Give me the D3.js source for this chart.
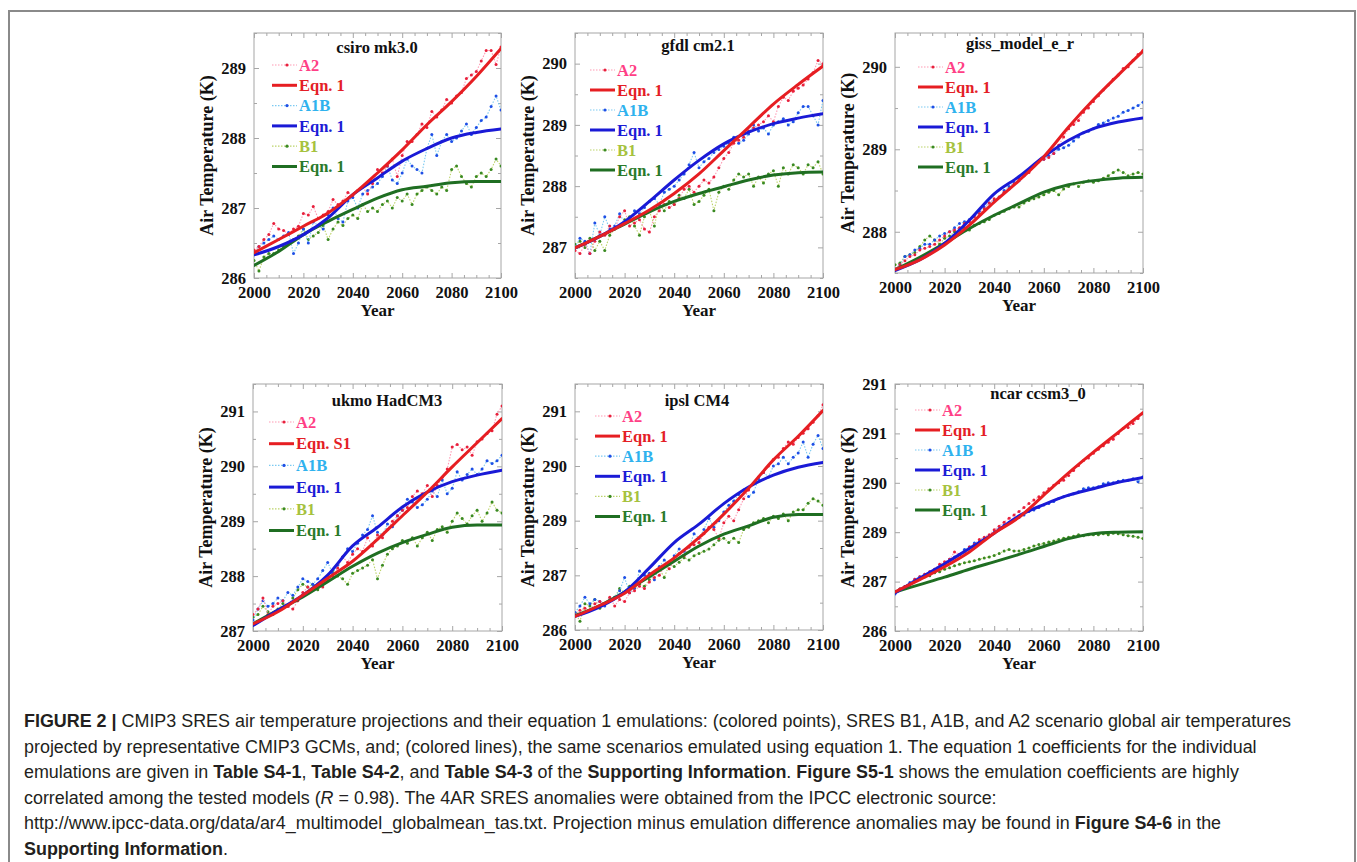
<!DOCTYPE html>
<html>
<head>
<meta charset="utf-8">
<script src="https://cdn.jsdelivr.net/npm/d3@7"></script>
<style>
  html, body { margin: 0; padding: 0; background: #fff; }
  svg { display: block; }
  .serif { font-family: "Liberation Serif", "Times New Roman", serif; font-weight: bold; }
  .caption { font-family: "Liberation Sans", Arial, sans-serif; font-size: 16px; fill: #231f20; }
</style>
</head>
<body>
<svg id="fig" width="1357" height="862"></svg>
<script>
// ─── Data ──────────────────────────────────────────────────
const MODEL_NAMES = ['csiro mk3.0', 'gfdl cm2.1', 'giss_model_e_r', 'ukmo HadCM3', 'ipsl CM4', 'ncar ccsm3_0'];
const SCENARIOS   = ['A2', 'A1B', 'B1'];
const EQN_LABELS  = [
  ['Eqn. 1', 'Eqn. 1', 'Eqn. 1'],
  ['Eqn. 1', 'Eqn. 1', 'Eqn. 1'],
  ['Eqn. 1', 'Eqn. 1', 'Eqn. 1'],
  ['Eqn. S1', 'Eqn. 1', 'Eqn. 1'],
  ['Eqn. 1', 'Eqn. 1', 'Eqn. 1'],
  ['Eqn. 1', 'Eqn. 1', 'Eqn. 1']
];
const X_TICKS   = [2000, 2020, 2040, 2060, 2080, 2100];
const EQN_YEARS = [2000, 2010, 2020, 2030, 2040, 2050, 2060, 2070, 2080, 2090, 2100];
// projection points are every 2 years, 2000 → 2100

// y axes
const csiroYDomain = [286, 289.5];   const csiroYTicks = [286, 287, 288, 289];        const csiroYLabels = ['286', '287', '288', '289'];
const gfdlYDomain  = [286.5, 290.5]; const gfdlYTicks  = [287, 288, 289, 290];        const gfdlYLabels  = ['287', '288', '289', '290'];
const gissYDomain  = [287.5, 290.41];const gissYTicks  = [288, 289, 290];             const gissYLabels  = ['288', '289', '290'];
const ukmoYDomain  = [287, 291.5];   const ukmoYTicks  = [287, 288, 289, 290, 291];   const ukmoYLabels  = ['287', '288', '289', '290', '291'];
const ipslYDomain  = [286, 291.625]; const ipslYTicks  = [286, 287.25, 288.5, 289.75, 291]; const ipslYLabels = ['286', '287', '289', '290', '291'];
const ncarYDomain  = [286, 291];     const ncarYTicks  = [286, 287, 288, 289, 290, 291];    const ncarYLabels = ['286', '287', '289', '290', '291', '291'];

// csiro mk3.0
const csiroA2 = [
  286.40, 286.45, 286.55, 286.62, 286.78, 286.70, 286.68, 286.62, 286.70, 286.74,
  286.92, 286.90, 287.02, 286.85, 286.90, 286.95, 287.12, 287.05, 287.10, 287.22,
  287.18, 287.25, 287.30, 287.20, 287.35, 287.55, 287.50, 287.60, 287.70, 287.45,
  287.75, 287.95, 287.95, 288.05, 288.20, 288.15, 288.38, 288.30, 288.40, 288.55,
  288.50, 288.60, 288.65, 288.85, 288.90, 288.95, 289.10, 289.25, 289.25, 289.05,
  289.30];
const csiroA1B = [
  286.35, 286.45, 286.50, 286.55, 286.60, 286.55, 286.60, 286.65, 286.35, 286.50,
  286.70, 286.50, 286.80, 286.75, 286.70, 286.90, 287.00, 286.85, 286.80, 287.10,
  287.15, 287.00, 287.20, 287.25, 287.30, 287.35, 287.45, 287.60, 287.40, 287.35,
  287.50, 287.70, 287.60, 287.55, 287.50, 287.85, 288.05, 287.75, 287.95, 288.05,
  287.95, 288.00, 288.10, 288.20, 288.05, 288.15, 288.25, 288.30, 288.45, 288.60,
  288.40];
const csiroB1 = [
  286.25, 286.10, 286.30, 286.35, 286.35, 286.40, 286.45, 286.50, 286.55, 286.60,
  286.70, 286.55, 286.60, 286.65, 286.75, 286.55, 286.70, 286.80, 286.75, 286.85,
  286.90, 286.85, 287.05, 286.95, 287.00, 286.95, 287.05, 287.10, 287.00, 287.15,
  287.10, 287.20, 287.05, 287.20, 287.25, 287.30, 287.25, 287.20, 287.30, 287.25,
  287.55, 287.60, 287.45, 287.35, 287.30, 287.45, 287.50, 287.45, 287.55, 287.70,
  287.60];
const csiroEqnA2  = [286.36, 286.55, 286.74, 286.93, 287.19, 287.50, 287.83, 288.19, 288.52, 288.88, 289.28];
const csiroEqnA1B = [286.33, 286.45, 286.62, 286.86, 287.19, 287.43, 287.67, 287.85, 288.00, 288.08, 288.13];
const csiroEqnB1  = [286.18, 286.38, 286.62, 286.81, 286.98, 287.14, 287.26, 287.31, 287.36, 287.38, 287.38];

// gfdl cm2.1
const gfdlA2 = [
  286.95, 286.90, 287.05, 286.90, 287.10, 287.25, 287.20, 287.35, 287.30, 287.50,
  287.60, 287.35, 287.40, 287.45, 287.30, 287.25, 287.50, 287.60, 287.70, 287.65,
  287.70, 287.80, 287.95, 288.00, 287.90, 288.00, 288.10, 288.05, 288.15, 288.30,
  288.45, 288.55, 288.70, 288.75, 288.80, 288.90, 288.95, 289.00, 289.05, 289.15,
  289.05, 289.30, 289.45, 289.40, 289.55, 289.60, 289.65, 289.75, 289.85, 290.05,
  290.00];
const gfdlA1B = [
  287.00, 287.15, 287.10, 286.90, 287.40, 287.20, 287.50, 287.30, 287.35, 287.55,
  287.40, 287.45, 287.60, 287.55, 287.65, 287.75, 287.80, 287.70, 287.90, 287.95,
  288.00, 288.10, 288.20, 288.35, 288.55, 288.30, 288.40, 288.45, 288.55, 288.60,
  288.65, 288.70, 288.80, 288.70, 288.75, 288.85, 289.00, 288.90, 288.95, 288.85,
  289.00, 289.05, 289.10, 289.00, 289.05, 289.20, 289.30, 289.30, 289.15, 289.00,
  289.40];
const gfdlB1 = [
  287.05, 287.10, 287.00, 287.15, 286.95, 287.10, 286.95, 287.20, 287.30, 287.35,
  287.45, 287.50, 287.35, 287.20, 287.50, 287.60, 287.35, 287.70, 287.60, 287.75,
  287.70, 287.85, 287.80, 287.95, 287.70, 287.75, 287.85, 287.95, 287.60, 287.90,
  288.00, 287.95, 288.10, 288.20, 288.15, 288.20, 288.00, 288.15, 288.05, 288.20,
  288.25, 288.00, 288.30, 288.20, 288.35, 288.30, 288.20, 288.35, 288.30, 288.40,
  288.20];
const gfdlEqnA2  = [286.99, 287.18, 287.39, 287.61, 287.88, 288.20, 288.58, 288.96, 289.34, 289.66, 289.96];
const gfdlEqnA1B = [286.99, 287.18, 287.42, 287.75, 288.10, 288.42, 288.69, 288.88, 289.02, 289.11, 289.18];
const gfdlEqnB1  = [286.99, 287.18, 287.38, 287.58, 287.75, 287.88, 287.99, 288.10, 288.18, 288.22, 288.23];

// giss_model_e_r
const gissA2 = [
  287.55, 287.60, 287.65, 287.70, 287.72, 287.78, 287.80, 287.82, 287.85, 287.90,
  287.95, 288.00, 288.02, 288.05, 288.10, 288.12, 288.18, 288.22, 288.28, 288.35,
  288.40, 288.42, 288.48, 288.52, 288.58, 288.65, 288.68, 288.72, 288.80, 288.85,
  288.88, 288.90, 288.95, 289.05, 289.15, 289.25, 289.30, 289.35, 289.45, 289.50,
  289.58, 289.65, 289.72, 289.78, 289.85, 289.90, 289.98, 290.00, 290.08, 290.15,
  290.20];
const gissA1B = [
  287.55, 287.60, 287.70, 287.72, 287.78, 287.80, 287.85, 287.85, 287.90, 287.95,
  287.98, 288.00, 288.05, 288.10, 288.12, 288.15, 288.20, 288.25, 288.30, 288.35,
  288.38, 288.42, 288.50, 288.55, 288.60, 288.62, 288.68, 288.75, 288.80, 288.85,
  288.88, 288.92, 288.95, 289.00, 289.02, 289.05, 289.10, 289.15, 289.20, 289.22,
  289.25, 289.30, 289.32, 289.35, 289.38, 289.40, 289.45, 289.47, 289.50, 289.53,
  289.57];
const gissB1 = [
  287.60, 287.62, 287.70, 287.72, 287.75, 287.82, 287.90, 287.95, 287.90, 287.85,
  287.92, 287.95, 288.00, 288.02, 288.05, 288.02, 288.08, 288.10, 288.12, 288.15,
  288.20, 288.22, 288.25, 288.28, 288.30, 288.30, 288.35, 288.38, 288.40, 288.42,
  288.45, 288.48, 288.50, 288.45, 288.52, 288.55, 288.58, 288.55, 288.60, 288.62,
  288.60, 288.62, 288.65, 288.68, 288.72, 288.75, 288.72, 288.68, 288.70, 288.72,
  288.70];
const gissEqnA2  = [287.54, 287.66, 287.84, 288.08, 288.36, 288.62, 288.91, 289.27, 289.60, 289.90, 290.19];
const gissEqnA1B = [287.53, 287.66, 287.86, 288.14, 288.46, 288.67, 288.91, 289.11, 289.25, 289.33, 289.38];
const gissEqnB1  = [287.54, 287.69, 287.86, 288.04, 288.20, 288.34, 288.48, 288.57, 288.62, 288.65, 288.66];

// ukmo HadCM3
const ukmoA2 = [
  287.30, 287.40, 287.60, 287.30, 287.45, 287.50, 287.55, 287.45, 287.40, 287.55,
  287.70, 287.80, 287.75, 287.85, 287.80, 287.95, 288.00, 288.15, 288.35, 288.25,
  288.40, 288.50, 288.45, 288.70, 288.55, 288.75, 288.70, 288.85, 289.00, 289.10,
  289.20, 289.25, 289.45, 289.55, 289.50, 289.65, 289.45, 289.65, 289.80, 289.95,
  290.35, 290.40, 290.30, 290.35, 290.20, 290.45, 290.50, 290.60, 290.65, 290.95,
  291.10];
const ukmoA1B = [
  287.20, 287.40, 287.55, 287.45, 287.50, 287.60, 287.55, 287.70, 287.65, 287.80,
  287.95, 287.90, 287.85, 287.95, 288.10, 288.25, 288.05, 288.20, 288.35, 288.50,
  288.45, 288.60, 288.75, 288.85, 289.10, 288.80, 288.75, 288.95, 288.90, 289.10,
  289.20, 289.40, 289.35, 289.25, 289.30, 289.40, 289.55, 289.45, 289.75, 289.50,
  289.60, 289.90, 289.75, 289.85, 289.95, 289.85, 289.95, 290.10, 290.05, 290.10,
  290.20];
const ukmoB1 = [
  287.25, 287.30, 287.45, 287.35, 287.30, 287.40, 287.50, 287.45, 287.60, 287.75,
  287.85, 287.80, 287.85, 287.75, 287.85, 288.00, 288.10, 288.00, 287.95, 287.85,
  288.05, 288.10, 288.15, 288.20, 288.30, 287.95, 288.20, 288.40, 288.50, 288.55,
  288.65, 288.60, 288.70, 288.55, 288.70, 288.80, 288.65, 288.85, 288.90, 288.80,
  289.00, 289.15, 289.05, 288.95, 289.10, 289.20, 289.00, 289.15, 289.35, 289.20,
  289.15];
const ukmoEqnA2  = [287.13, 287.35, 287.65, 287.96, 288.27, 288.67, 289.10, 289.53, 289.99, 290.43, 290.87];
const ukmoEqnA1B = [287.10, 287.38, 287.65, 288.02, 288.55, 288.89, 289.26, 289.53, 289.72, 289.84, 289.93];
const ukmoEqnB1  = [287.13, 287.38, 287.62, 287.90, 288.18, 288.42, 288.61, 288.76, 288.89, 288.93, 288.93];

// ipsl CM4
const ipslA2 = [
  286.35, 286.45, 286.50, 286.45, 286.60, 286.65, 286.60, 286.75, 286.55, 286.70,
  286.65, 286.85, 286.90, 287.00, 286.95, 287.10, 287.20, 287.25, 287.45, 287.40,
  287.60, 287.75, 287.70, 287.90, 287.95, 288.00, 288.20, 288.35, 288.30, 288.10,
  288.45, 288.60, 288.50, 288.75, 289.00, 289.20, 289.35, 289.50, 289.60, 289.75,
  289.90, 289.95, 290.15, 290.30, 290.25, 290.40, 290.50, 290.60, 290.75, 290.90,
  291.15];
const ipslA1B = [
  286.40, 286.55, 286.75, 286.60, 286.70, 286.65, 286.55, 286.70, 286.75, 286.90,
  287.20, 286.85, 286.95, 287.35, 287.25, 287.30, 287.15, 287.45, 287.60, 287.50,
  287.70, 287.85, 287.80, 287.90, 288.20, 288.10, 288.30, 288.55, 288.35, 288.50,
  288.70, 288.85, 288.95, 289.10, 289.20, 289.05, 289.15, 289.45, 289.60, 289.50,
  289.75, 289.80, 289.95, 289.80, 289.95, 290.05, 290.30, 289.95, 290.25, 290.45,
  290.15];
const ipslB1 = [
  286.40, 286.20, 286.60, 286.55, 286.70, 286.50, 286.60, 286.70, 286.75, 286.95,
  286.85, 287.00, 286.95, 287.05, 287.00, 287.15, 287.30, 287.40, 287.20, 287.50,
  287.45, 287.55, 287.65, 287.60, 287.70, 287.75, 287.80, 287.85, 287.95, 288.05,
  288.10, 288.00, 288.10, 288.00, 288.30, 288.35, 288.45, 288.50, 288.55, 288.45,
  288.60, 288.55, 288.65, 288.50, 288.70, 288.75, 288.75, 288.90, 289.00, 288.95,
  288.85];
const ipslEqnA2  = [286.31, 286.56, 286.84, 287.26, 287.65, 288.11, 288.65, 289.24, 289.89, 290.43, 291.02];
const ipslEqnA1B = [286.31, 286.53, 286.87, 287.42, 288.00, 288.42, 288.89, 289.27, 289.54, 289.72, 289.83];
const ipslEqnB1  = [286.33, 286.56, 286.87, 287.22, 287.57, 287.92, 288.19, 288.38, 288.58, 288.64, 288.64];

// ncar ccsm3_0
const ncarA2 = [
  286.80, 286.85, 286.90, 286.95, 287.05, 287.10, 287.15, 287.20, 287.25, 287.35,
  287.40, 287.45, 287.60, 287.55, 287.60, 287.70, 287.75, 287.85, 287.90, 287.95,
  288.05, 288.12, 288.20, 288.28, 288.35, 288.42, 288.50, 288.58, 288.65, 288.72,
  288.80, 288.88, 288.95, 289.00, 289.05, 289.15, 289.25, 289.35, 289.45, 289.50,
  289.60, 289.68, 289.75, 289.82, 289.88, 290.00, 290.10, 290.12, 290.20, 290.30,
  290.40];
const ncarA1B = [
  286.75, 286.85, 286.90, 286.98, 287.05, 287.10, 287.15, 287.20, 287.25, 287.30,
  287.35, 287.45, 287.50, 287.55, 287.65, 287.70, 287.78, 287.82, 287.88, 287.92,
  288.00, 288.08, 288.15, 288.20, 288.25, 288.30, 288.35, 288.42, 288.45, 288.50,
  288.55, 288.58, 288.62, 288.68, 288.72, 288.75, 288.78, 288.82, 288.88, 288.90,
  288.90, 288.92, 288.98, 289.00, 289.00, 289.03, 289.05, 289.05, 289.08, 289.02,
  289.12];
const ncarB1 = [
  286.78, 286.85, 286.90, 286.95, 287.00, 287.05, 287.10, 287.12, 287.18, 287.20,
  287.25, 287.28, 287.32, 287.35, 287.38, 287.40, 287.42, 287.45, 287.48, 287.50,
  287.53, 287.57, 287.62, 287.65, 287.62, 287.62, 287.65, 287.68, 287.72, 287.75,
  287.77, 287.80, 287.82, 287.85, 287.88, 287.90, 287.92, 287.95, 287.93, 287.95,
  287.95, 287.95, 287.97, 287.95, 287.98, 287.97, 287.95, 287.93, 287.92, 287.90,
  287.87];
const ncarEqnA2  = [286.79, 287.04, 287.30, 287.60, 287.98, 288.30, 288.75, 289.20, 289.62, 290.02, 290.42];
const ncarEqnA1B = [286.77, 287.07, 287.36, 287.67, 287.98, 288.33, 288.56, 288.75, 288.88, 289.01, 289.11];
const ncarEqnB1  = [286.79, 286.94, 287.09, 287.25, 287.40, 287.55, 287.71, 287.87, 287.97, 288.00, 288.01];

// ─── Panels (built from the arrays above) ─────────────────
const panels = [
  { yDomain: csiroYDomain, yTicks: csiroYTicks, yLabels: csiroYLabels, pts: [csiroA2, csiroA1B, csiroB1], eqn: [csiroEqnA2, csiroEqnA1B, csiroEqnB1] },
  { yDomain: gfdlYDomain,  yTicks: gfdlYTicks,  yLabels: gfdlYLabels,  pts: [gfdlA2, gfdlA1B, gfdlB1],    eqn: [gfdlEqnA2, gfdlEqnA1B, gfdlEqnB1] },
  { yDomain: gissYDomain,  yTicks: gissYTicks,  yLabels: gissYLabels,  pts: [gissA2, gissA1B, gissB1],    eqn: [gissEqnA2, gissEqnA1B, gissEqnB1] },
  { yDomain: ukmoYDomain,  yTicks: ukmoYTicks,  yLabels: ukmoYLabels,  pts: [ukmoA2, ukmoA1B, ukmoB1],    eqn: [ukmoEqnA2, ukmoEqnA1B, ukmoEqnB1] },
  { yDomain: ipslYDomain,  yTicks: ipslYTicks,  yLabels: ipslYLabels,  pts: [ipslA2, ipslA1B, ipslB1],    eqn: [ipslEqnA2, ipslEqnA1B, ipslEqnB1] },
  { yDomain: ncarYDomain,  yTicks: ncarYTicks,  yLabels: ncarYLabels,  pts: [ncarA2, ncarA1B, ncarB1],    eqn: [ncarEqnA2, ncarEqnA1B, ncarEqnB1] }
].map((p, i) => ({ ...p, name: MODEL_NAMES[i], eqnLabels: EQN_LABELS[i] }));

// ─── Layout & style ────────────────────────────────────────
const LAYOUT = [
  { left: 254, right: 501,  top: 33,  bottom: 278, titleX: 377,  titleY: 53,  legX: 272, legY: 65,  legDy: 20.3 },
  { left: 575, right: 823,  top: 33,  bottom: 278, titleX: 698,  titleY: 51,  legX: 590, legY: 70,  legDy: 20.0 },
  { left: 895, right: 1143, top: 33,  bottom: 273, titleX: 1020, titleY: 49,  legX: 918, legY: 67,  legDy: 20.0 },
  { left: 253, right: 502,  top: 384, bottom: 631, titleX: 387,  titleY: 406, legX: 269, legY: 422, legDy: 21.7 },
  { left: 575, right: 823,  top: 384, bottom: 630, titleX: 697,  titleY: 406, legX: 595, legY: 416, legDy: 20.1 },
  { left: 895, right: 1143, top: 384, bottom: 631, titleX: 1038, titleY: 399, legX: 915, legY: 410, legDy: 20.0 }
];

const PT_COLOR    = ['#e8203c', '#1e4fe6', '#3a8a22'];
const PT_LINE     = ['#ff9ab4', '#7ccaf2', '#bcd36a'];
const EQN_COLOR   = ['#e61e22', '#1a1ad6', '#1f6e22'];
const LEG_PT_TEXT = ['#ff3f86', '#2fb2ee', '#a6c23e'];
const LEG_EQ_TEXT = ['#e41e26', '#1c1cd6', '#2a7a2a'];
const AXIS_GREY   = '#a6a6a6';

const svg = d3.select('#fig');

// outer figure border
svg.append('rect')
  .attr('x', 9).attr('y', 11)
  .attr('width', 1346).attr('height', 900)
  .attr('fill', 'none').attr('stroke', '#8a8a8a').attr('stroke-width', 2);

function minorTicks(major, domain) {
  const step = (major[1] - major[0]) / 2;
  const out = [];
  for (let v = major[0] - step * 4; v <= domain[1] + 1e-6; v += step) {
    if (v < domain[0] - 1e-6) continue;
    if (major.some(m => Math.abs(m - v) < 1e-6)) continue;
    out.push(v);
  }
  return out;
}

function styleAxis(g) {
  g.select('.domain').remove();
  g.selectAll('.tick line').attr('stroke', AXIS_GREY);
  g.selectAll('.tick text')
    .attr('class', 'serif')
    .attr('fill', '#111')
    .style('font-size', '16.5px');
}

function drawPanel(p, box, idx) {
  const x = d3.scaleLinear().domain([2000, 2100]).range([box.left, box.right]);
  const y = d3.scaleLinear().domain(p.yDomain).range([box.bottom, box.top]);
  const g = svg.append('g');

  const xMinor = d3.range(2005, 2100, 5).filter(v => v % 20 !== 0);
  const yMinor = minorTicks(p.yTicks, p.yDomain);

  // ticks, all pointing inward
  g.append('g').attr('transform', `translate(0,${box.bottom})`)
    .call(d3.axisBottom(x).tickValues(X_TICKS).tickFormat(d3.format('d'))
      .tickSizeInner(-5).tickSizeOuter(0).tickPadding(8))
    .call(styleAxis);
  g.append('g').attr('transform', `translate(0,${box.bottom})`)
    .call(d3.axisBottom(x).tickValues(xMinor).tickFormat('').tickSizeInner(-3).tickSizeOuter(0))
    .call(styleAxis);
  g.append('g').attr('transform', `translate(0,${box.top})`)
    .call(d3.axisTop(x).tickValues(X_TICKS).tickFormat('').tickSizeInner(-5).tickSizeOuter(0))
    .call(styleAxis);
  g.append('g').attr('transform', `translate(0,${box.top})`)
    .call(d3.axisTop(x).tickValues(xMinor).tickFormat('').tickSizeInner(-3).tickSizeOuter(0))
    .call(styleAxis);

  g.append('g').attr('transform', `translate(${box.left},0)`)
    .call(d3.axisLeft(y).tickValues(p.yTicks).tickFormat((d, i) => p.yLabels[i])
      .tickSizeInner(-5).tickSizeOuter(0).tickPadding(8))
    .call(styleAxis);
  g.append('g').attr('transform', `translate(${box.left},0)`)
    .call(d3.axisLeft(y).tickValues(yMinor).tickFormat('').tickSizeInner(-3).tickSizeOuter(0))
    .call(styleAxis);
  g.append('g').attr('transform', `translate(${box.right},0)`)
    .call(d3.axisRight(y).tickValues(p.yTicks).tickFormat('').tickSizeInner(-5).tickSizeOuter(0))
    .call(styleAxis);
  g.append('g').attr('transform', `translate(${box.right},0)`)
    .call(d3.axisRight(y).tickValues(yMinor).tickFormat('').tickSizeInner(-3).tickSizeOuter(0))
    .call(styleAxis);

  // frame
  g.append('rect')
    .attr('x', box.left).attr('y', box.top)
    .attr('width', box.right - box.left).attr('height', box.bottom - box.top)
    .attr('fill', 'none').attr('stroke', AXIS_GREY).attr('stroke-width', 1);

  // axis titles
  g.append('text').attr('class', 'serif')
    .attr('x', (box.left + box.right) / 2).attr('y', box.bottom + 38)
    .attr('text-anchor', 'middle').style('font-size', '17px').attr('fill', '#111')
    .text('Year');
  g.append('text').attr('class', 'serif')
    .attr('transform', `translate(${box.left - 47},${(box.top + box.bottom) / 2}) rotate(-90)`)
    .attr('text-anchor', 'middle').attr('dy', '0.35em').style('font-size', '18px').attr('fill', '#111')
    .text('Air Temperature (K)');

  // data
  const clipId = `clip-${idx}`;
  svg.append('clipPath').attr('id', clipId)
    .append('rect')
    .attr('x', box.left).attr('y', box.top)
    .attr('width', box.right - box.left).attr('height', box.bottom - box.top);
  const plot = g.append('g').attr('clip-path', `url(#${clipId})`);

  const ptLine = d3.line()
    .x((d, i, arr) => x(2000 + i * 100 / (arr.length - 1)))
    .y(d => y(d));
  const eqnLine = d3.line()
    .x((d, i) => x(EQN_YEARS[i]))
    .y(d => y(d))
    .curve(d3.curveMonotoneX);

  // draw order: B1, A1B, A2 points, then lines
  [2, 1, 0].forEach(s => {
    const vals = p.pts[s];
    plot.append('path')
      .attr('d', ptLine(vals))
      .attr('fill', 'none').attr('stroke', PT_LINE[s])
      .attr('stroke-width', 1.1).attr('stroke-dasharray', '1.5,1.5');
    plot.selectAll(null)
      .data(vals)
      .join('circle')
      .attr('cx', (d, i) => x(2000 + i * 100 / (vals.length - 1)))
      .attr('cy', d => y(d))
      .attr('r', 1.5)
      .attr('fill', PT_COLOR[s]);
  });
  [2, 1, 0].forEach(s => {
    plot.append('path')
      .attr('d', eqnLine(p.eqn[s]))
      .attr('fill', 'none').attr('stroke', EQN_COLOR[s])
      .attr('stroke-width', 3).attr('stroke-linecap', 'round');
  });

  // title
  g.append('text').attr('class', 'serif')
    .attr('x', box.titleX).attr('y', box.titleY)
    .attr('text-anchor', 'middle').style('font-size', '16.5px').attr('fill', '#111')
    .text(p.name);

  // legend
  const rows = [];
  SCENARIOS.forEach((sc, s) => {
    rows.push({ kind: 'pts', s, label: sc });
    rows.push({ kind: 'eqn', s, label: p.eqnLabels[s] });
  });
  const legLen = 25;
  rows.forEach((r, i) => {
    const ry = box.legY + i * box.legDy;
    if (r.kind === 'pts') {
      g.append('line')
        .attr('x1', box.legX).attr('x2', box.legX + legLen)
        .attr('y1', ry).attr('y2', ry)
        .attr('stroke', PT_LINE[r.s]).attr('stroke-width', 1.2).attr('stroke-dasharray', '1.5,1.5');
      g.append('circle')
        .attr('cx', box.legX + legLen * 0.6).attr('cy', ry).attr('r', 1.6)
        .attr('fill', PT_COLOR[r.s]);
    } else {
      g.append('line')
        .attr('x1', box.legX).attr('x2', box.legX + legLen)
        .attr('y1', ry).attr('y2', ry)
        .attr('stroke', EQN_COLOR[r.s]).attr('stroke-width', 3);
    }
    g.append('text').attr('class', 'serif')
      .attr('x', box.legX + legLen + 2).attr('y', ry).attr('dy', '0.35em')
      .style('font-size', '16.5px')
      .attr('fill', r.kind === 'pts' ? LEG_PT_TEXT[r.s] : LEG_EQ_TEXT[r.s])
      .text(r.label);
  });
}

panels.forEach((p, i) => drawPanel(p, LAYOUT[i], i));

// ─── Caption ───────────────────────────────────────────────
const CAPTION = [
  [['b', 'FIGURE 2 | '], ['n', 'CMIP3 SRES air temperature projections and their equation 1 emulations: (colored points), SRES B1, A1B, and A2 scenario global air temperatures']],
  [['n', 'projected by representative CMIP3 GCMs, and; (colored lines), the same scenarios emulated using equation 1. The equation 1 coefficients for the individual']],
  [['n', 'emulations are given in '], ['b', 'Table S4-1'], ['n', ', '], ['b', 'Table S4-2'], ['n', ', and '], ['b', 'Table S4-3'], ['n', ' of the '], ['b', 'Supporting Information'], ['n', '. '], ['b', 'Figure S5-1'], ['n', ' shows the emulation coefficients are highly']],
  [['n', 'correlated among the tested models ('], ['i', 'R'], ['n', ' = 0.98). The 4AR SRES anomalies were obtained from the IPCC electronic source:']],
  [['n', 'http://www.ipcc-data.org/data/ar4_multimodel_globalmean_tas.txt. Projection minus emulation difference anomalies may be found in '], ['b', 'Figure S4-6'], ['n', ' in the']],
  [['b', 'Supporting Information'], ['n', '.']]
];
const CAPTION_FIRST_LINE_RIGHT = 1292;

const cap = svg.append('g');
const capLines = CAPTION.map((line, i) => {
  const t = cap.append('text').attr('class', 'caption')
    .attr('x', 24).attr('y', 727 + i * 25.5)
    .attr('xml:space', 'preserve');
  line.forEach(([kind, str]) => {
    t.append('tspan')
      .attr('font-weight', kind === 'b' ? 'bold' : null)
      .attr('font-style', kind === 'i' ? 'italic' : null)
      .text(str);
  });
  return t;
});
// size the caption so its first line spans the same width as in the figure
const w0 = capLines[0].node().getComputedTextLength();
const capSize = 16 * (CAPTION_FIRST_LINE_RIGHT - 24) / w0;
capLines.forEach(t => t.style('font-size', `${capSize.toFixed(2)}px`));
</script>
</body>
</html>
